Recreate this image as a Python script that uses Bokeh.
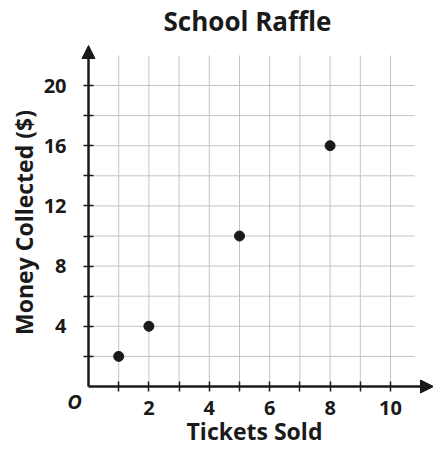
from bokeh.plotting import figure
from bokeh.models import Range1d, FixedTicker, Arrow, NormalHead, Label
from bokeh.embed import file_html
from bokeh.resources import INLINE

tickets = [1, 2, 5, 8]
money = [2, 4, 10, 16]
x_ticks = [1, 2, 3, 4, 5, 6, 7, 8, 9, 10]
y_ticks = [2, 4, 6, 8, 10, 12, 14, 16, 18, 20]
x_labels = {t: (str(t) if t % 2 == 0 else "") for t in x_ticks}
y_labels = {t: (str(t) if t % 4 == 0 else "") for t in y_ticks}
title_text = "School Raffle"

FONT = "Open Sans"
INK = "#1a1a1a"
GRID = "#c4c4c4"

# layout (pixels): figure size, origin position, pixel per unit
W, H = 433, 447
PX0, PY0 = 88, 386
UX, UY = 30.2, 15.05
X_MAX = (W - PX0) / UX          # right arrow tip
Y_MAX = (PY0 - 45) / UY          # top arrow tip
GRID_TOP = 22
GRID_RIGHT = 10.8
TITLE_X = (247 - PX0) / UX
TITLE_Y = (PY0 - 30) / UY

p = figure(width=W, height=H, output_backend="svg", toolbar_location=None,
           x_range=Range1d(-PX0 / UX, X_MAX),
           y_range=Range1d(-(H - PY0) / UY, PY0 / UY),
           min_border_left=0, min_border_right=0, min_border_top=0, min_border_bottom=0)
p.outline_line_color = None
p.background_fill_color = "white"
p.border_fill_color = "white"
p.xgrid.visible = False
p.ygrid.visible = False

p.add_layout(Label(x=TITLE_X, y=TITLE_Y, y_offset=10, text=title_text, text_font=FONT,
                   text_font_size="26px", text_font_style="bold", text_color=INK,
                   text_align="center", text_baseline="alphabetic"))

# grid
p.segment(x0=x_ticks, y0=[0] * len(x_ticks), x1=x_ticks, y1=[GRID_TOP] * len(x_ticks),
          line_color=GRID, line_width=1)
p.segment(x0=[0] * len(y_ticks), y0=y_ticks, x1=[GRID_RIGHT] * len(y_ticks), y1=y_ticks,
          line_color=GRID, line_width=1)

for ax, ticks, labels, bnd in ((p.xaxis[0], x_ticks, x_labels, (-0.42, X_MAX)),
                               (p.yaxis[0], y_ticks, y_labels, (-0.86, Y_MAX))):
    ax.fixed_location = 0
    ax.bounds = bnd
    ax.ticker = FixedTicker(ticks=ticks)
    ax.major_label_overrides = labels
    ax.axis_line_color = None
    ax.major_tick_in = 5
    ax.major_tick_out = 5
    ax.major_tick_line_width = 1.5
    ax.major_tick_line_color = INK
    ax.minor_tick_line_color = None
    ax.major_label_text_font = FONT
    ax.major_label_text_font_size = "20px"
    ax.major_label_text_font_style = "bold"
    ax.major_label_text_color = INK
    ax.axis_label_text_font = FONT
    ax.axis_label_text_font_style = "bold"
    ax.axis_label_text_color = INK

p.xaxis.axis_label = "Tickets Sold"
p.yaxis.axis_label = "Money Collected ($)"
p.xaxis.axis_label_text_font_size = "23px"
p.yaxis.axis_label_text_font_size = "23px"
p.xaxis.major_label_standoff = 9
p.yaxis.major_label_standoff = 17
p.xaxis.axis_label_standoff = -3
p.yaxis.axis_label_standoff = 1
p.yaxis.major_label_orientation = "horizontal"

head = dict(size=13, fill_color=INK, line_color=INK)
p.add_layout(Arrow(end=NormalHead(**head), x_start=0, y_start=0, x_end=0, y_end=Y_MAX,
                   line_color=INK, line_width=2.5))
p.add_layout(Arrow(end=NormalHead(**head), x_start=0, y_start=0, x_end=X_MAX, y_end=0,
                   line_color=INK, line_width=2.5))

p.add_layout(Label(x=0, y=0, x_offset=-14, y_offset=-1, text="O",
                   text_font=FONT, text_font_size="20px", text_font_style="bold italic",
                   text_color=INK, text_align="center", text_baseline="top"))

p.scatter(tickets, money, size=10, color=INK)

open("out.html", "w").write(file_html(p, INLINE))
